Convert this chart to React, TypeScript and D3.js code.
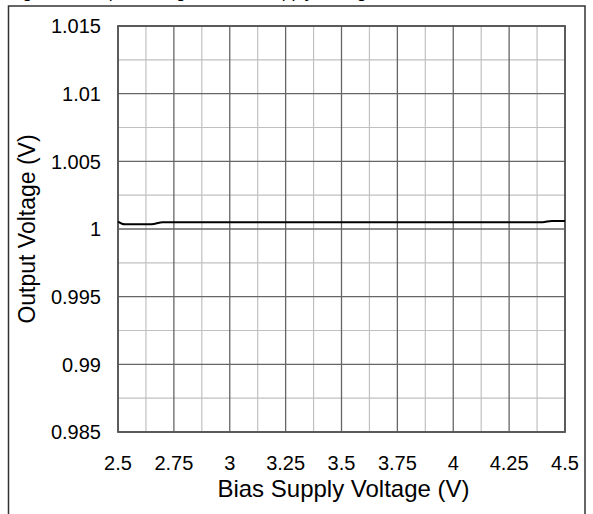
import React from "react";
import * as d3 from "d3";

const xTicks = [2.5, 2.75, 3, 3.25, 3.5, 3.75, 4, 4.25, 4.5];
const xTickLabels = ["2.5", "2.75", "3", "3.25", "3.5", "3.75", "4", "4.25", "4.5"];
const yTicks = [0.985, 0.99, 0.995, 1, 1.005, 1.01, 1.015];
const yTickLabels = ["0.985", "0.99", "0.995", "1", "1.005", "1.01", "1.015"];

const biasVoltage = [2.5, 2.53, 2.6, 2.65, 2.7, 3.0, 3.5, 4.0, 4.4, 4.44, 4.5];
const outputVoltage = [1.00055, 1.00035, 1.00035, 1.00036, 1.0005, 1.0005, 1.0005, 1.0005, 1.0005, 1.0006, 1.0006];

const W = 593;
const H = 514;
const left = 118;
const right = 565;
const top = 26;
const bottom = 432;
const FONT = "'Liberation Sans', Arial, sans-serif";

export default function App() {
  const x = d3.scaleLinear().domain([2.5, 4.5]).range([left, right]);
  const y = d3.scaleLinear().domain([0.985, 1.015]).range([bottom, top]);

  const minorX = d3.range(0, 8).map((i) => 2.5 + 0.125 + i * 0.25);
  const minorY = d3.range(0, 6).map((i) => 0.985 + 0.0025 + i * 0.005);

  const line = d3
    .line<number>()
    .x((_, i) => x(biasVoltage[i]))
    .y((d) => y(d))
    .curve(d3.curveMonotoneX);

  return (
    <svg
      width={W}
      height={H}
      style={{ position: "absolute", left: 0, top: 0, background: "#fff" }}
      fontFamily={FONT}
    >
      <rect x={0} y={0} width={W} height={H} fill="#fff" />
      <text x={8} y={-2} fontSize={17.3} fill="#000">
        Figure 8. Output Voltage vs Bias Supply Voltage
      </text>
      <rect x={8.5} y={6} width={576.5} height={540} fill="none" stroke="#333" strokeWidth={1.5} />

      {minorX.map((v) => (
        <line key={"mx" + v} x1={x(v)} x2={x(v)} y1={top} y2={bottom} stroke="#c0c0c0" strokeWidth={1.2} />
      ))}
      {minorY.map((v) => (
        <line key={"my" + v} x1={left} x2={right} y1={y(v)} y2={y(v)} stroke="#c0c0c0" strokeWidth={1.2} />
      ))}
      {xTicks.map((v) => (
        <line key={"gx" + v} x1={x(v)} x2={x(v)} y1={top} y2={bottom} stroke="#666" strokeWidth={1.3} />
      ))}
      {yTicks.map((v) => (
        <line key={"gy" + v} x1={left} x2={right} y1={y(v)} y2={y(v)} stroke="#666" strokeWidth={1.3} />
      ))}
      <rect x={left} y={top} width={right - left} height={bottom - top} fill="none" stroke="#555" strokeWidth={1.8} />

      <path d={line(outputVoltage) || ""} fill="none" stroke="#000" strokeWidth={2} />

      {yTicks.map((v, i) => (
        <text key={"ty" + v} x={101} y={y(v)} dy="0.36em" textAnchor="end" fontSize={20} fill="#000">
          {yTickLabels[i]}
        </text>
      ))}
      {xTicks.map((v, i) => (
        <text key={"tx" + v} x={x(v)} y={470} textAnchor="middle" fontSize={20} fill="#000">
          {xTickLabels[i]}
        </text>
      ))}
      <text x={(left + right) / 2 + 2} y={497} textAnchor="middle" fontSize={24} fill="#000">
        Bias Supply Voltage (V)
      </text>
      <text
        transform={`translate(35, ${(top + bottom) / 2}) rotate(-90)`}
        textAnchor="middle"
        fontSize={23}
        fill="#000"
      >
        Output Voltage (V)
      </text>
    </svg>
  );
}
